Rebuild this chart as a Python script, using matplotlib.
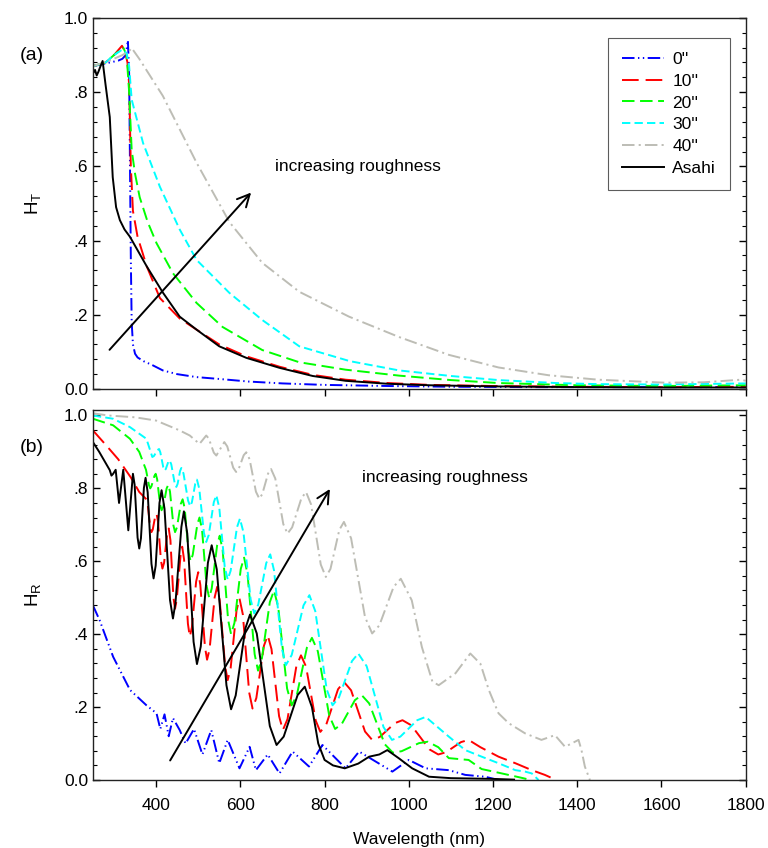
#!/usr/bin/python
# -*- coding: UTF-8 -*-
"""
H_T / H_R haze vs wavelength, two stacked panels
"""
import matplotlib
matplotlib.use('Agg')
import matplotlib.pyplot as plt

plt.rcParams['font.family'] = ['Liberation Sans', 'DejaVu Sans']
plt.rcParams['lines.scale_dashes'] = False

# ---- data: panel (a) H_T ----
x_t_0 = [250, 270, 290, 310, 320, 328, 333, 336, 338, 340, 342, 345, 350, 356, 370, 390, 416, 450, 496, 550,
         620, 700, 800, 950, 1100, 1300, 1500, 1700, 1800]
t_0 = [0.87, 0.875, 0.88, 0.885, 0.89, 0.9, 0.94, 0.85, 0.6, 0.35, 0.18, 0.12, 0.095, 0.085, 0.075, 0.065, 0.05,
       0.04, 0.032, 0.027, 0.02, 0.015, 0.011, 0.008, 0.006, 0.005, 0.005, 0.005, 0.005]
x_t_10 = [250, 280, 300, 319, 326, 332, 336, 340, 345, 356, 378, 409, 456, 496, 550, 614, 693, 772, 850, 950,
          1050, 1200, 1400, 1600, 1800]
t_10 = [0.87, 0.88, 0.9, 0.925, 0.91, 0.88, 0.82, 0.6, 0.48, 0.41, 0.33, 0.245, 0.19, 0.16, 0.12, 0.088, 0.06,
        0.038, 0.025, 0.016, 0.011, 0.008, 0.006, 0.005, 0.006]
x_t_20 = [250, 280, 300, 322, 330, 336, 342, 350, 361, 380, 401, 440, 496, 558, 652, 740, 850, 977, 1100, 1213,
          1400, 1600, 1800]
t_20 = [0.87, 0.88, 0.9, 0.92, 0.9, 0.8, 0.644, 0.58, 0.517, 0.45, 0.393, 0.312, 0.232, 0.167, 0.105, 0.072,
        0.052, 0.036, 0.024, 0.016, 0.01, 0.008, 0.01]
x_t_30 = [250, 280, 300, 320, 330, 336, 342, 369, 409, 456, 496, 574, 652, 740, 860, 977, 1100, 1213, 1350,
          1450, 1600, 1800]
t_30 = [0.87, 0.88, 0.9, 0.915, 0.905, 0.87, 0.78, 0.663, 0.545, 0.43, 0.348, 0.259, 0.186, 0.115, 0.075, 0.05,
        0.035, 0.024, 0.016, 0.013, 0.012, 0.015]
x_t_40 = [250, 290, 320, 335, 342, 360, 416, 496, 574, 652, 740, 858, 977, 1095, 1213, 1332, 1450, 1608, 1700,
          1788, 1800]
t_40 = [0.87, 0.885, 0.9, 0.91, 0.919, 0.89, 0.79, 0.61, 0.45, 0.34, 0.262, 0.195, 0.14, 0.092, 0.058, 0.037,
        0.025, 0.017, 0.018, 0.025, 0.022]
x_t_as = [250, 255, 259, 263, 268, 273, 280, 290, 297, 305, 314, 325, 338, 378, 416, 456, 496, 550, 614, 693,
          772, 850, 950, 1050, 1200, 1400, 1600, 1800]
t_as = [0.85, 0.86, 0.845, 0.855, 0.87, 0.884, 0.82, 0.733, 0.571, 0.49, 0.455, 0.43, 0.41, 0.33, 0.26, 0.195,
        0.16, 0.115, 0.084, 0.057, 0.035, 0.022, 0.014, 0.01, 0.007, 0.005, 0.004, 0.004]

# ---- data: panel (b) H_R ----
x_r_0 = [250, 266, 298, 338, 377, 401, 410, 420, 430, 440, 456, 470, 490, 510, 531, 550, 570, 598, 622, 637,
         665, 693, 724, 763, 795, 850, 882, 961, 1000, 1040, 1095, 1134, 1181, 1213]
r_0 = [0.479, 0.438, 0.338, 0.247, 0.205, 0.183, 0.14, 0.18, 0.12, 0.17, 0.137, 0.1, 0.14, 0.07, 0.137, 0.046,
       0.11, 0.032, 0.091, 0.027, 0.07, 0.018, 0.078, 0.037, 0.096, 0.032, 0.078, 0.023, 0.055, 0.032, 0.027,
       0.014, 0.009, 0.0]
x_r_10 = [250, 280, 310, 340, 360, 377, 380, 386, 389, 392, 398, 401, 404.5, 411.5, 415, 419, 426, 430, 434,
          441, 445, 449, 458, 462, 466.5, 475.5, 480, 485, 495, 500, 505, 516, 521, 527, 539, 545, 551, 564, 570,
          577, 591, 598, 606, 621, 629, 638, 656, 665, 674, 692, 701, 712, 733, 744, 756, 779, 790, 804, 832,
          846, 863, 896, 913, 931, 967, 985, 1006, 1049, 1070, 1088, 1124, 1142, 1170, 1213, 1253, 1292, 1323,
          1350]
r_10 = [0.959, 0.92, 0.88, 0.83, 0.79, 0.77, 0.757, 0.693, 0.68, 0.687, 0.724, 0.731, 0.709, 0.602, 0.58,
        0.596, 0.674, 0.69, 0.658, 0.502, 0.47, 0.495, 0.615, 0.64, 0.604, 0.429, 0.393, 0.419, 0.544, 0.57,
        0.535, 0.365, 0.33, 0.359, 0.501, 0.53, 0.493, 0.311, 0.274, 0.307, 0.465, 0.498, 0.454, 0.24, 0.196,
        0.225, 0.368, 0.397, 0.359, 0.175, 0.137, 0.167, 0.312, 0.342, 0.311, 0.163, 0.132, 0.152, 0.249, 0.269,
        0.246, 0.133, 0.11, 0.118, 0.156, 0.164, 0.15, 0.084, 0.07, 0.076, 0.104, 0.11, 0.09, 0.064, 0.046,
        0.027, 0.014, 0.0]
x_r_20 = [250, 298, 338, 360, 373, 376, 383, 386, 389, 396, 399, 402.5, 409.5, 413, 417, 425, 429, 433, 441, 445,
          449.5, 458.5, 463, 468, 477, 482, 487, 498, 503, 509, 520, 526, 532, 545, 551, 558, 571, 578, 586, 601,
          609, 617, 634, 642, 651, 670, 680, 690, 711, 722, 734, 758, 770, 784, 811, 825, 841, 872, 888, 906,
          943, 962, 983, 1024, 1045, 1070, 1095, 1142, 1173, 1213, 1260, 1290]
r_20 = [0.991, 0.973, 0.936, 0.9, 0.86, 0.851, 0.809, 0.8, 0.806, 0.834, 0.84, 0.825, 0.755, 0.74, 0.75, 0.8,
        0.81, 0.791, 0.699, 0.68, 0.693, 0.757, 0.77, 0.745, 0.625, 0.6, 0.618, 0.702, 0.72, 0.688, 0.532, 0.5,
        0.525, 0.645, 0.67, 0.631, 0.439, 0.4, 0.431, 0.579, 0.61, 0.565, 0.345, 0.3, 0.332, 0.488, 0.52, 0.474,
        0.251, 0.205, 0.232, 0.363, 0.39, 0.353, 0.177, 0.14, 0.154, 0.219, 0.233, 0.21, 0.098, 0.075, 0.079,
        0.101, 0.105, 0.09, 0.06, 0.055, 0.03, 0.02, 0.008, 0.0]
x_r_30 = [250, 298, 338, 377, 391, 395, 403, 407, 410, 417, 420, 423, 429, 432, 436, 444, 448, 451, 457, 460, 465,
          476, 481, 485, 493, 497, 502.5, 513.5, 519, 525, 537, 543, 550, 563, 570, 577, 592, 599, 607.5, 624.5,
          633, 642.5, 661.5, 671, 680, 699, 708, 722, 750, 764, 778, 805, 819, 834, 865, 880, 900, 940, 960, 980,
          1020, 1040, 1095, 1134, 1173, 1213, 1253, 1276, 1292, 1308]
r_30 = [1.0, 0.991, 0.968, 0.936, 0.886, 0.889, 0.905, 0.908, 0.899, 0.858, 0.849, 0.853, 0.873, 0.877, 0.866,
        0.815, 0.804, 0.812, 0.848, 0.856, 0.841, 0.766, 0.751, 0.762, 0.813, 0.824, 0.799, 0.678, 0.653, 0.672,
        0.762, 0.781, 0.747, 0.584, 0.55, 0.574, 0.693, 0.717, 0.679, 0.495, 0.457, 0.481, 0.595, 0.619, 0.575,
        0.359, 0.315, 0.343, 0.479, 0.507, 0.463, 0.249, 0.205, 0.226, 0.326, 0.347, 0.312, 0.145, 0.11, 0.119,
        0.164, 0.173, 0.119, 0.082, 0.064, 0.046, 0.027, 0.023, 0.018, 0.0]
x_r_40 = [250, 286, 350, 400, 456, 480, 503, 519, 525, 537, 543, 562, 569, 583, 590, 596, 608, 614, 622, 637, 645,
          652, 666, 673, 683, 702, 712, 723, 745, 756, 768, 791, 803, 814, 835, 846, 863, 896, 913, 930, 964, 981,
          1007, 1031, 1056, 1071, 1111, 1146, 1170, 1190, 1213, 1237, 1276, 1315, 1347, 1371, 1403, 1410, 1418,
          1430]
r_40 = [1.006, 1.0, 0.995, 0.986, 0.959, 0.945, 0.922, 0.945, 0.937, 0.898, 0.89, 0.927, 0.915, 0.857, 0.845,
        0.853, 0.891, 0.899, 0.88, 0.791, 0.772, 0.784, 0.841, 0.853, 0.827, 0.702, 0.676, 0.693, 0.773, 0.79,
        0.756, 0.591, 0.557, 0.579, 0.686, 0.708, 0.663, 0.447, 0.402, 0.424, 0.53, 0.552, 0.493, 0.365, 0.27,
        0.26, 0.293, 0.347, 0.319, 0.247, 0.183, 0.156, 0.128, 0.11, 0.123, 0.091, 0.11, 0.082, 0.037, 0.0]
x_r_as = [250, 265, 280, 290, 294, 298, 304, 312, 322, 334, 345, 349, 356, 360, 364, 371, 375, 380, 389, 394, 399,
          408, 413, 420, 433, 440, 446, 460, 466, 474, 489, 497, 506, 523, 532, 544, 567, 578, 589, 612, 623, 639,
          670, 686, 703, 736, 753, 770, 785, 800, 820, 848, 880, 906, 930, 949, 977, 1008, 1048, 1100, 1150, 1200,
          1250]
r_as = [0.927, 0.9, 0.87, 0.85, 0.835, 0.84, 0.851, 0.76, 0.851, 0.685, 0.84, 0.81, 0.665, 0.635, 0.663, 0.801,
        0.829, 0.789, 0.593, 0.553, 0.588, 0.76, 0.795, 0.744, 0.494, 0.443, 0.486, 0.694, 0.737, 0.676, 0.379,
        0.318, 0.366, 0.596, 0.644, 0.578, 0.26, 0.194, 0.232, 0.416, 0.454, 0.402, 0.148, 0.096, 0.119, 0.233,
        0.256, 0.2, 0.1, 0.055, 0.04, 0.032, 0.045, 0.064, 0.07, 0.082, 0.059, 0.032, 0.009, 0.005, 0.004, 0.003,
        0.001]

labels = ['0\'\'', '10\'\'', '20\'\'', '30\'\'', '40\'\'', 'Asahi']
colors = ['#0000ff', '#ff0000', '#00ff00', '#00ffff', '#bdbdb5', '#000000']
dashes = [(0, (9, 2.5, 1, 2.5, 1, 2.5)), (0, (12, 5)), (0, (9, 4)), (0, (6, 3)),
          (0, (9, 3, 1.5, 3)), '-']
yticks = [0.0, 0.2, 0.4, 0.6, 0.8, 1.0]
yticklabels = ['0.0', '.2', '.4', '.6', '.8', '1.0']
xticks = [400, 600, 800, 1000, 1200, 1400, 1600, 1800]

top_series = [(x_t_0, t_0), (x_t_10, t_10), (x_t_20, t_20), (x_t_30, t_30), (x_t_40, t_40), (x_t_as, t_as)]
bot_series = [(x_r_0, r_0), (x_r_10, r_10), (x_r_20, r_20), (x_r_30, r_30), (x_r_40, r_40), (x_r_as, r_as)]

fig = plt.figure(figsize=(7.68, 8.48), dpi=100)
ax1 = fig.add_axes([0.121, 0.5413, 0.850, 0.4375])
ax2 = fig.add_axes([0.121, 0.0802, 0.850, 0.4363])


def style_axis(ax, ytop):
    ax.set_xlim(250, 1800)
    ax.set_ylim(0, ytop)
    ax.set_xticks(xticks)
    ax.set_yticks(yticks)
    ax.set_yticklabels(yticklabels)
    ax.set_yticks([i * 0.04 for i in range(26) if i % 5 != 0], minor=True)
    ax.tick_params(axis='y', which='both', direction='in', left=True, right=True, labelsize=12.5)
    ax.tick_params(axis='y', which='major', length=5, width=1)
    ax.tick_params(axis='y', which='minor', length=3, width=0.8)
    ax.tick_params(axis='x', direction='out', length=5, width=1, labelsize=12.5, pad=8)
    for sp in ax.spines.values():
        sp.set_linewidth(1.0)
        sp.set_color('#222222')


# 上图
for (xs, ys), lab, c, ls in zip(top_series, labels, colors, dashes):
    ax1.plot(xs, ys, color=c, linestyle=ls, lw=1.4, label=lab)
style_axis(ax1, 1.0)
ax1.set_xticklabels([])
ax1.set_ylabel('H$_\\mathregular{T}$', fontsize=13.5)
ax1.yaxis.set_label_coords(-0.075, 0.5)
ax1.text(-0.094, 0.9, '(a)', transform=ax1.transAxes, fontsize=14, ha='center', va='center')
ax1.annotate('', xy=(630, 0.535), xytext=(285, 0.10),
             arrowprops=dict(arrowstyle='->', color='black', lw=1.4, mutation_scale=22))
ax1.text(683, 0.60, 'increasing roughness', fontsize=12.5, va='center')
leg = ax1.legend(loc='upper left', bbox_to_anchor=(0.789, 0.946), borderaxespad=0, fontsize=12.5,
                 handlelength=2.4, handletextpad=0.5, labelspacing=0.38, fancybox=False,
                 edgecolor='#333333', borderpad=0.8)
leg.get_frame().set_linewidth(0.8)

# 下图
for (xs, ys), lab, c, ls in zip(bot_series, labels, colors, dashes):
    ax2.plot(xs, ys, color=c, linestyle=ls, lw=1.4)
style_axis(ax2, 1.015)
ax2.set_ylabel('H$_\\mathregular{R}$', fontsize=13.5)
ax2.yaxis.set_label_coords(-0.075, 0.5)
ax2.set_xlabel('Wavelength (nm)', fontsize=12.5, labelpad=14)
ax2.text(-0.094, 0.9, '(b)', transform=ax2.transAxes, fontsize=14, ha='center', va='center')
ax2.annotate('', xy=(816, 0.805), xytext=(430, 0.047),
             arrowprops=dict(arrowstyle='->', color='black', lw=1.4, mutation_scale=22))
ax2.text(889, 0.83, 'increasing roughness', fontsize=12.5, va='center')

fig.savefig('out.png', dpi=100, facecolor='white')
